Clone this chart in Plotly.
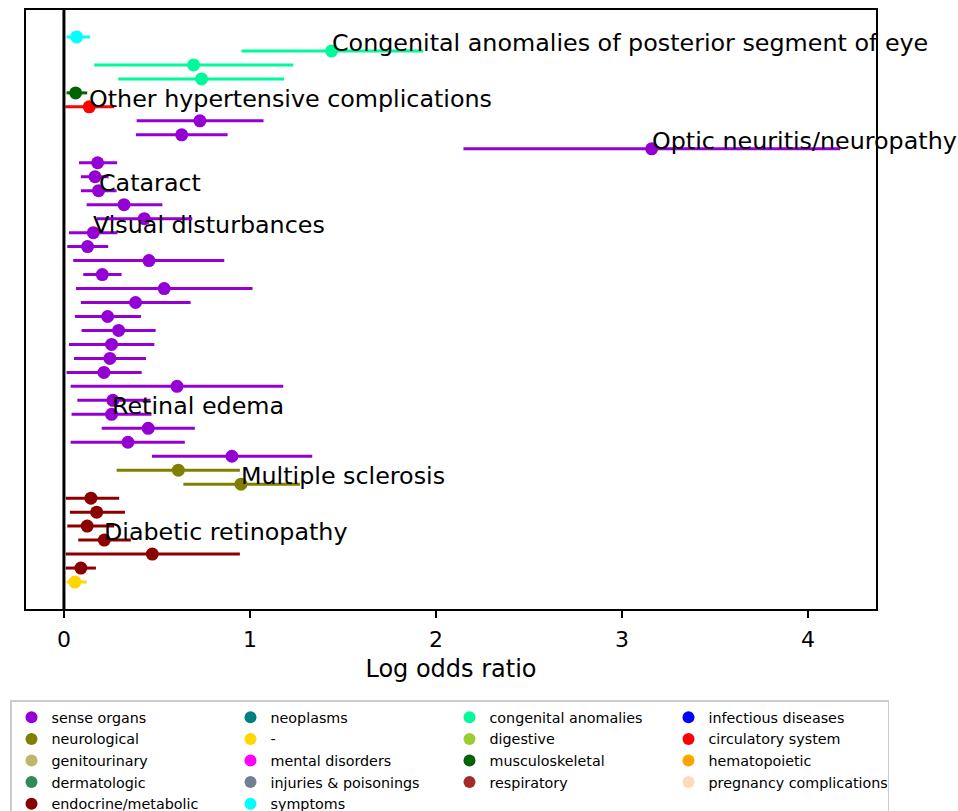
import plotly.graph_objects as go

# Forest plot of log odds ratios with confidence intervals, one row per phenotype
categories = [
    "symptoms", "congenital anomalies", "congenital anomalies", "congenital anomalies",
    "musculoskeletal", "circulatory system",
    "sense organs", "sense organs", "sense organs", "sense organs", "sense organs",
    "sense organs", "sense organs", "sense organs", "sense organs", "sense organs",
    "sense organs", "sense organs", "sense organs", "sense organs", "sense organs",
    "sense organs", "sense organs", "sense organs", "sense organs", "sense organs",
    "sense organs", "sense organs", "sense organs", "sense organs", "sense organs",
    "neurological", "neurological",
    "endocrine/metabolic", "endocrine/metabolic", "endocrine/metabolic",
    "endocrine/metabolic", "endocrine/metabolic", "endocrine/metabolic",
    "-",
]
log_odds = [
    0.068, 1.439, 0.697, 0.740, 0.063, 0.136,
    0.731, 0.633, 3.160, 0.181, 0.167, 0.186, 0.323, 0.432, 0.158, 0.127,
    0.457, 0.206, 0.539, 0.385, 0.235, 0.294, 0.256, 0.247, 0.215, 0.608,
    0.263, 0.256, 0.453, 0.344, 0.903,
    0.615, 0.952,
    0.145, 0.176, 0.125, 0.217, 0.475, 0.091,
    0.059,
]
ci_low = [
    0.014, 0.955, 0.163, 0.292, 0.014, 0.008,
    0.391, 0.387, 2.148, 0.081, 0.091, 0.091, 0.122, 0.177, 0.027, 0.018,
    0.050, 0.104, 0.065, 0.091, 0.059, 0.095, 0.027, 0.054, 0.014, 0.036,
    0.072, 0.041, 0.203, 0.036, 0.473,
    0.283, 0.642,
    0.010, 0.032, 0.018, 0.077, 0.010, 0.010,
    0.014,
]
ci_high = [
    0.140, 1.932, 1.233, 1.184, 0.125, 0.270,
    1.073, 0.880, 4.174, 0.286, 0.240, 0.283, 0.529, 0.690, 0.288, 0.238,
    0.862, 0.310, 1.014, 0.681, 0.414, 0.493, 0.486, 0.441, 0.418, 1.179,
    0.465, 0.471, 0.704, 0.650, 1.335,
    0.946, 1.269,
    0.297, 0.328, 0.270, 0.360, 0.946, 0.172,
    0.122,
]

# Labelled phenotypes: (row index, text)
labelled_rows = [1, 5, 8, 11, 14, 27, 32, 36]
labelled_text = [
    "Congenital anomalies of posterior segment of eye",
    "Other hypertensive complications",
    "Optic neuritis/neuropathy",
    "Cataract",
    "Visual disturbances",
    "Retinal edema",
    "Multiple sclerosis",
    "Diabetic retinopathy",
]

# Category colours, in legend order (row by row across four columns)
legend_order = [
    "sense organs", "neoplasms", "congenital anomalies", "infectious diseases",
    "neurological", "-", "digestive", "circulatory system",
    "genitourinary", "mental disorders", "musculoskeletal", "hematopoietic",
    "dermatologic", "injuries & poisonings", "respiratory", "pregnancy complications",
    "endocrine/metabolic", "symptoms",
]
category_colors = {
    "sense organs": "#9400D3",
    "neurological": "#808000",
    "genitourinary": "#BDB76B",
    "dermatologic": "#2E8B57",
    "endocrine/metabolic": "#8B0000",
    "neoplasms": "#008080",
    "-": "#FFD700",
    "mental disorders": "#FF00FF",
    "injuries & poisonings": "#708090",
    "symptoms": "#00FFFF",
    "congenital anomalies": "#00FA9A",
    "digestive": "#9ACD32",
    "musculoskeletal": "#006400",
    "respiratory": "#A52A2A",
    "infectious diseases": "#0000FF",
    "circulatory system": "#FF0000",
    "hematopoietic": "#FFA500",
    "pregnancy complications": "#FFDAB9",
}

FONT = "DejaVu Sans"
rows = list(range(1, len(log_odds) + 1))

fig = go.Figure()

# One trace per category present in the data
for cat in dict.fromkeys(categories):
    idx = [i for i, c in enumerate(categories) if c == cat]
    fig.add_trace(go.Scatter(
        x=[log_odds[i] for i in idx],
        y=[rows[i] for i in idx],
        mode="markers",
        marker=dict(color=category_colors[cat], size=13),
        error_x=dict(
            type="data", symmetric=False,
            array=[ci_high[i] - log_odds[i] for i in idx],
            arrayminus=[log_odds[i] - ci_low[i] for i in idx],
            color=category_colors[cat], thickness=3, width=0,
        ),
        showlegend=False,
        hoverinfo="x+y",
        cliponaxis=False,
    ))

# Legend entries for every category
for cat in legend_order:
    fig.add_trace(go.Scatter(
        x=[None], y=[None], mode="markers", name=cat,
        marker=dict(color=category_colors[cat], size=12),
        showlegend=True,
    ))

for r, txt in zip(labelled_rows, labelled_text):
    fig.add_annotation(
        x=log_odds[r], y=rows[r], text=txt, showarrow=False,
        xanchor="left", yanchor="middle", yshift=8, xshift=-2,
        font=dict(family=FONT, size=23.8, color="black"),
    )

# Reference line at zero
fig.add_shape(type="line", xref="x", yref="paper", x0=0, x1=0, y0=0, y1=1,
              line=dict(color="black", width=3), layer="above")

fig.update_layout(
    width=958, height=811,
    margin=dict(l=26, r=82, t=10, b=202, autoexpand=False),
    paper_bgcolor="white", plot_bgcolor="white",
    font=dict(family=FONT, color="black"),
    xaxis=dict(
        range=[-0.204, 4.366], tickvals=[0, 1, 2, 3, 4],
        ticks="outside", ticklen=7, tickwidth=1.5, tickcolor="black",
        tickfont=dict(size=22, family=FONT), ticklabelstandoff=3,
        showline=True, linecolor="black", linewidth=1.5, mirror=True,
        showgrid=False, zeroline=False,
        title=dict(text="Log odds ratio", font=dict(size=24, family=FONT), standoff=9),
    ),
    yaxis=dict(
        range=[41.93, -0.93], showticklabels=False, ticks="",
        showline=True, linecolor="black", linewidth=1.5, mirror=True,
        showgrid=False, zeroline=False,
    ),
    legend=dict(
        orientation="h", xref="paper", yref="paper",
        x=-16 / 850, y=-(700 - 609) / 599, xanchor="left", yanchor="top",
        entrywidth=174, entrywidthmode="pixels",
        itemsizing="constant",
        font=dict(size=14.3, family=FONT),
        bordercolor="#cccccc", borderwidth=1.5, bgcolor="white",
        traceorder="normal",
    ),
)

fig.write_html("out.html")
